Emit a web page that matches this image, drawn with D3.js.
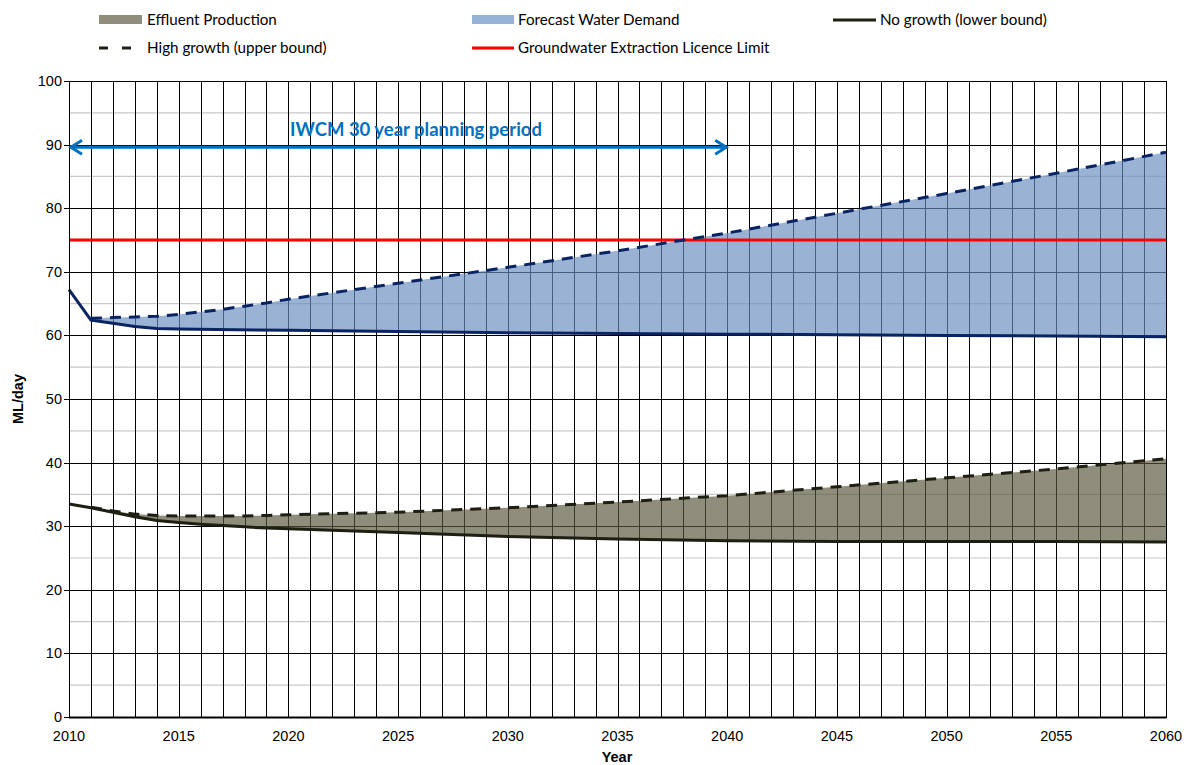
<!DOCTYPE html>
<html><head><meta charset="utf-8">
<script src="https://cdn.jsdelivr.net/npm/d3@7"></script>
<style>body{margin:0;background:#fff}svg{display:block}</style>
</head><body>
<svg id="c" width="1192" height="765"></svg>
<script>
// ---- data ----
const waterLowYears  = [2010,2011,2012,2013,2014,2015,2020,2025,2030,2035,2040,2045,2050,2055,2060];
const waterLow       = [67.2,62.4,61.9,61.4,61.1,61.0,60.8,60.6,60.4,60.3,60.2,60.1,60.0,59.9,59.8];
const waterHighYears = [2011,2012,2013,2014,2015,2016,2017,2018,2019,2020,2025,2030,2035,2040,2045,2050,2055,2060];
const waterHigh      = [62.7,62.8,62.9,63.0,63.3,63.7,64.1,64.6,65.1,65.7,68.2,70.7,73.3,76.1,79.2,82.3,85.5,88.8];
const effLowYears    = [2010,2011,2012,2013,2014,2015,2016,2017,2018,2019,2020,2025,2030,2035,2040,2045,2050,2055,2060];
const effLow         = [33.5,32.9,32.2,31.5,30.9,30.6,30.3,30.1,29.9,29.7,29.6,29.0,28.4,28.0,27.7,27.6,27.6,27.6,27.5];
const effHighYears   = [2011,2012,2013,2014,2015,2016,2017,2018,2019,2020,2025,2030,2035,2040,2045,2050,2055,2060];
const effHigh        = [33.0,32.4,31.9,31.7,31.6,31.6,31.6,31.6,31.7,31.8,32.2,32.9,33.8,34.8,36.2,37.6,39.0,40.6];
const licenceLimit   = 75;
const planningPeriod = [2010,2040];
const planningLevel  = 89.6;
const yTicks = [0,10,20,30,40,50,60,70,80,90,100];
const xTicks = [2010,2015,2020,2025,2030,2035,2040,2045,2050,2055,2060];
const legendLabels = ["Effluent Production","Forecast Water Demand","No growth (lower bound)","High growth (upper bound)","Groundwater Extraction Licence Limit"];

// ---- setup ----
const svg = d3.select("#c");
const L=69,R=1166,T=81,B=717;
const x = d3.scaleLinear().domain([2010,2060]).range([L,R]);
const y = d3.scaleLinear().domain([0,100]).range([B,T]);
const zip=(ys,vs)=>ys.map((yr,i)=>({yr,v:vs[i]}));
const wL=zip(waterLowYears,waterLow), wH=zip(waterHighYears,waterHigh);
const eL=zip(effLowYears,effLow), eH=zip(effHighYears,effHigh);
const line = d3.line().x(d=>x(d.yr)).y(d=>y(d.v));
const font = "'Liberation Sans',Arial,sans-serif";
const cfont = "Lato,'Open Sans',sans-serif";

svg.append("rect").attr("width",1192).attr("height",765).attr("fill","#fff");

// minor gridlines
const g = svg.append("g");
d3.range(5,100,10).forEach(v=>{
  g.append("line").attr("x1",L).attr("x2",R).attr("y1",y(v)).attr("y2",y(v))
   .attr("stroke","#c8c8c8").attr("stroke-width",1.2);
});
// major horizontal
yTicks.forEach(v=>{
  g.append("line").attr("x1",L-5).attr("x2",R).attr("y1",Math.round(y(v))+0.5).attr("y2",Math.round(y(v))+0.5)
   .attr("stroke","#000").attr("stroke-width",1);
});
// vertical gridlines every year
d3.range(2010,2061,1).forEach(yr=>{
  g.append("line").attr("x1",Math.round(x(yr))+0.5).attr("x2",Math.round(x(yr))+0.5).attr("y1",T).attr("y2",B)
   .attr("stroke","#000").attr("stroke-width",1);
});

// areas
function band(low, high, fill){
  const lo = low.filter(d=>d.yr>=high[0].yr);
  const pts = high.concat(lo.slice().reverse());
  svg.append("path").attr("d", line(pts)+"Z").attr("fill",fill).attr("fill-opacity",0.67);
}
band(wL,wH,"#688EBF");
band(eL,eH,"#58553A");

// licence limit
svg.append("line").attr("x1",x(2010)).attr("x2",x(2060)).attr("y1",y(licenceLimit)).attr("y2",y(licenceLimit))
  .attr("stroke","#FF0000").attr("stroke-width",3);

// lines
svg.append("path").attr("d",line(eL)).attr("fill","none").attr("stroke","#1E1E12").attr("stroke-width",3);
svg.append("path").attr("d",line(eH)).attr("fill","none").attr("stroke","#1E1E12").attr("stroke-width",3).attr("stroke-dasharray","11,8");
svg.append("path").attr("d",line(wL)).attr("fill","none").attr("stroke","#0A2463").attr("stroke-width",3);
svg.append("path").attr("d",line(wH)).attr("fill","none").attr("stroke","#0A2463").attr("stroke-width",3).attr("stroke-dasharray","11,8");

// plot border
svg.append("rect").attr("x",L+0.5).attr("y",T+0.5).attr("width",R-L).attr("height",B-T)
  .attr("fill","none").attr("stroke","#000").attr("stroke-width",1);
svg.append("line").attr("x1",L).attr("x2",R).attr("y1",B+0.5).attr("y2",B+0.5).attr("stroke","#000").attr("stroke-width",2);

// planning arrow
const ay = y(planningLevel), ax1 = x(planningPeriod[0])+1, ax2 = x(planningPeriod[1]);
const blue = "#0070C0";
svg.append("line").attr("x1",ax1).attr("x2",ax2).attr("y1",ay).attr("y2",ay).attr("stroke",blue).attr("stroke-width",3);
svg.append("path").attr("d",`M${ax1+12},${ay-7}L${ax1+1},${ay}L${ax1+12},${ay+7}`).attr("fill","none").attr("stroke",blue).attr("stroke-width",3);
svg.append("path").attr("d",`M${ax2-12},${ay-7}L${ax2-1},${ay}L${ax2-12},${ay+7}`).attr("fill","none").attr("stroke",blue).attr("stroke-width",3);
svg.append("text").attr("x",290).attr("y",136).attr("fill",blue).attr("font-family",cfont).attr("font-weight","bold")
  .attr("font-size",18.5).text("IWCM 30 year planning period");

// axes labels
svg.append("g").selectAll("text").data(yTicks).join("text")
  .attr("x",L-7).attr("y",d=>y(d)+5).attr("text-anchor","end").attr("font-family",font).attr("font-size",14.5).attr("fill","#000").text(d=>d);
svg.append("g").selectAll("text").data(xTicks).join("text")
  .attr("x",d=>x(d)).attr("y",B+24).attr("text-anchor","middle").attr("font-family",font).attr("font-size",14.5).attr("fill","#000").text(d=>d);
svg.append("text").attr("x",617).attr("y",762).attr("text-anchor","middle").attr("font-family",font).attr("font-weight","bold").attr("font-size",14.5).text("Year");
svg.append("text").attr("transform","translate(23,399) rotate(-90)").attr("text-anchor","middle").attr("font-family",font).attr("font-weight","bold").attr("font-size",14.5).text("ML/day");

// legend
const lg = svg.append("g").attr("font-family",cfont).attr("font-size",15.2).attr("fill","#000");
lg.append("rect").attr("x",99).attr("y",15).attr("width",43).attr("height",9).attr("fill","#8F8D7B");
lg.append("text").attr("x",147).attr("y",25).text(legendLabels[0]);
lg.append("rect").attr("x",472).attr("y",15).attr("width",42).attr("height",9).attr("fill","#95B3D7");
lg.append("text").attr("x",518).attr("y",25).text(legendLabels[1]);
lg.append("line").attr("x1",833).attr("x2",876).attr("y1",20).attr("y2",20).attr("stroke","#1E1E12").attr("stroke-width",3);
lg.append("text").attr("x",880).attr("y",25).text(legendLabels[2]);
lg.append("line").attr("x1",99).attr("x2",134).attr("y1",48).attr("y2",48).attr("stroke","#1E1E12").attr("stroke-width",3).attr("stroke-dasharray","9,14");
lg.append("text").attr("x",147).attr("y",53).text(legendLabels[3]);
lg.append("line").attr("x1",472).attr("x2",514).attr("y1",48).attr("y2",48).attr("stroke","#FF0000").attr("stroke-width",3);
lg.append("text").attr("x",518).attr("y",53).text(legendLabels[4]);
</script>
</body></html>
